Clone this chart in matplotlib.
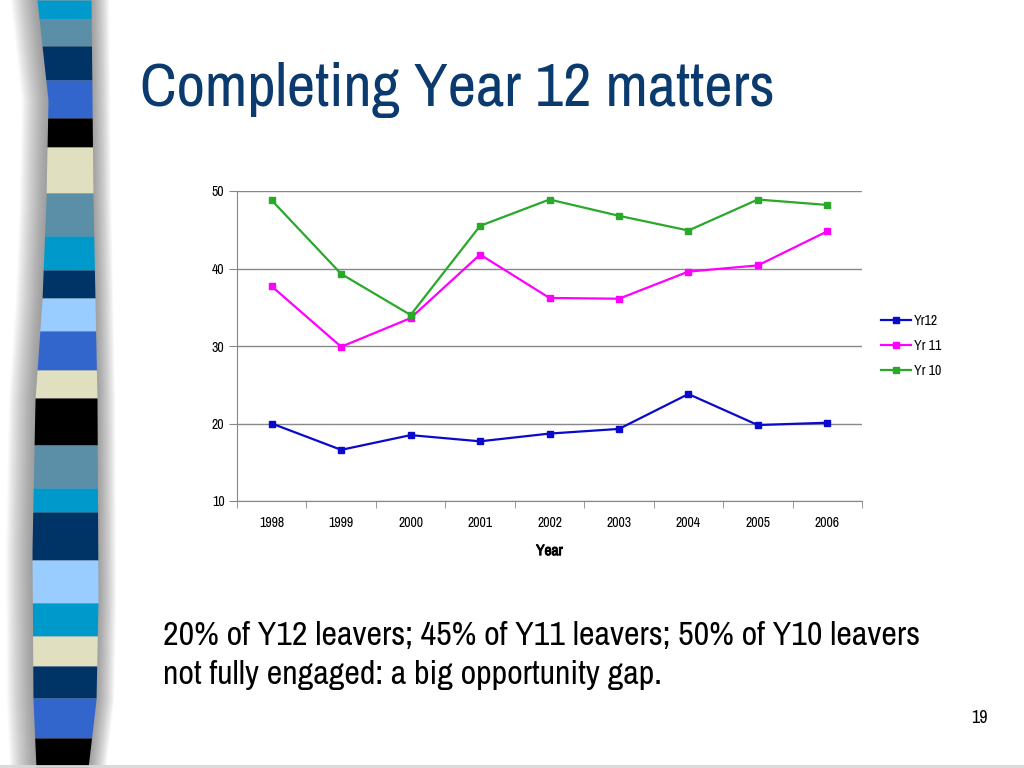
import numpy as np
import matplotlib
matplotlib.use("Agg")
import matplotlib.pyplot as plt
import matplotlib.patheffects as pe
from matplotlib import font_manager

# ---- data ----
years = ["1998", "1999", "2000", "2001", "2002", "2003", "2004", "2005", "2006"]
yr12 = [20.0, 16.6, 18.5, 17.7, 18.7, 19.3, 23.8, 19.8, 20.1]
yr11 = [37.7, 29.9, 33.6, 41.8, 36.2, 36.1, 39.6, 40.4, 44.8]
yr10 = [48.8, 39.3, 34.0, 45.5, 48.9, 46.8, 44.9, 48.9, 48.2]
series_names = ["Yr12", "Yr 11", "Yr 10"]
yticks = [10, 20, 30, 40, 50]

title_text = "Completing Year 12 matters"
body_lines = ["20% of Y12 leavers; 45% of Y11 leavers; 50% of Y10 leavers",
              "not fully engaged: a big opportunity gap."]
page_no = "19"

# ---- fonts ----
names = sorted({f.name for f in font_manager.fontManager.ttflist})
narrow = [n for n in names if "Narrow" in n or "Condensed" in n]
if narrow:
    fam = narrow[0]
    sz = dict(title=44.5, body=24.5, tick=10, leg=10, xlabel=11, page=13)
else:
    fam = "Liberation Sans"
    sz = dict(title=37, body=20, tick=9, leg=9, xlabel=10, page=12)
plt.rcParams["font.family"] = [fam, "DejaVu Sans"]

W, H = 1024, 768
fig = plt.figure(figsize=(W / 100, H / 100), dpi=100)
fig.patch.set_facecolor("white")

# ---- decorative background (left stripe) ----
bg = fig.add_axes([0, 0, 1, 1], zorder=0)
bg.set_xlim(0, W)
bg.set_ylim(H, 0)
bg.axis("off")

yy = np.linspace(0, H, 200)
left_edge = np.interp(yy, [0, 100, 200, 300, 400, 550, 700, 768], [37, 48, 46, 42, 35, 32, 33, 36])
right_edge = np.interp(yy, [0, 200, 400, 600, 700, 768], [91, 93, 97, 98, 96, 88])

# shadow (soft gradient on both sides)
for d in np.linspace(26, 1, 22):
    bg.fill_betweenx(yy, left_edge - d, right_edge + d * 0.7, color="#505050", alpha=0.032, lw=0, zorder=1)

bands = [
    (0, 19, "#0099cc"), (19, 46, "#5b8fa8"), (46, 80, "#003366"), (80, 118, "#3366cc"),
    (118, 147, "#000000"), (147, 193, "#e0e0c0"), (193, 236, "#5b8fa8"), (236, 270, "#0099cc"),
    (270, 298, "#003366"), (298, 331, "#99ccff"), (331, 370, "#3366cc"), (370, 398, "#e0e0c0"),
    (398, 445, "#000000"), (445, 488, "#5b8fa8"), (488, 512, "#0099cc"), (512, 560, "#003366"),
    (560, 603, "#99ccff"), (603, 636, "#0099cc"), (636, 666, "#e0e0c0"), (666, 698, "#003366"),
    (698, 738, "#3366cc"), (738, 768, "#000000"),
]
for y0, y1, c in bands:
    ys = np.linspace(y0, y1, 20)
    le = np.interp(ys, yy, left_edge)
    re = np.interp(ys, yy, right_edge)
    bg.fill_betweenx(ys, le, re, color=c, lw=0, zorder=2)

bg.plot([0, W], [766, 766], color="#d8d8d8", lw=2, zorder=2)

# ---- texts ----
fig.text(140 / W, 1 - 84 / H, title_text, fontsize=sz["title"], color="#0a3a6e", va="center_baseline", ha="left")
fig.text(163 / W, 1 - 636 / H, body_lines[0], fontsize=sz["body"], color="black", va="center", ha="left")
fig.text(163 / W, 1 - 675 / H, body_lines[1], fontsize=sz["body"], color="black", va="center", ha="left")
fig.text(988 / W, 1 - 718 / H, page_no, fontsize=sz["page"], color="black", va="center", ha="right")

# ---- chart ----
ax = fig.add_axes([237 / W, 1 - 501 / H, (862 - 237) / W, (501 - 191) / H], zorder=3)
ax.set_facecolor("none")
x = np.arange(len(years))
colors = ["#0a0acc", "#ff00ff", "#2aa82a"]
for vals, name, c in zip([yr12, yr11, yr10], series_names, colors):
    ax.plot(x, vals, color=c, lw=1.6, marker="s", markersize=4.5, label=name)

ax.set_xlim(-0.5, len(years) - 0.5)
ax.set_ylim(yticks[0], yticks[-1])
ax.set_yticks(yticks)
ax.set_xticks(x)
ax.set_xticklabels(years, fontsize=sz["tick"])
ax.set_xticks(np.arange(-0.5, len(years)), minor=True)
ax.tick_params(axis="x", which="major", length=0, pad=11)
ax.tick_params(axis="x", which="minor", length=5, color="#888888", direction="out")
ax.tick_params(axis="y", which="major", length=6, color="#888888", labelsize=sz["tick"], pad=3)
ax.grid(axis="y", color="#888888", lw=1)
ax.set_axisbelow(True)
for s in ["top", "right"]:
    ax.spines[s].set_visible(False)
for s in ["left", "bottom"]:
    ax.spines[s].set_color("#888888")
xl = ax.set_xlabel("Year", fontsize=sz["xlabel"], fontweight="bold", labelpad=10)
xl.set_path_effects([pe.withStroke(linewidth=0.7, foreground="black")])

leg = ax.legend(loc="center left", bbox_to_anchor=(1.01, 0.5), frameon=False, fontsize=sz["leg"],
                handlelength=2.2, handletextpad=0.2, labelspacing=0.8)

fig.savefig("out.png", dpi=100)
